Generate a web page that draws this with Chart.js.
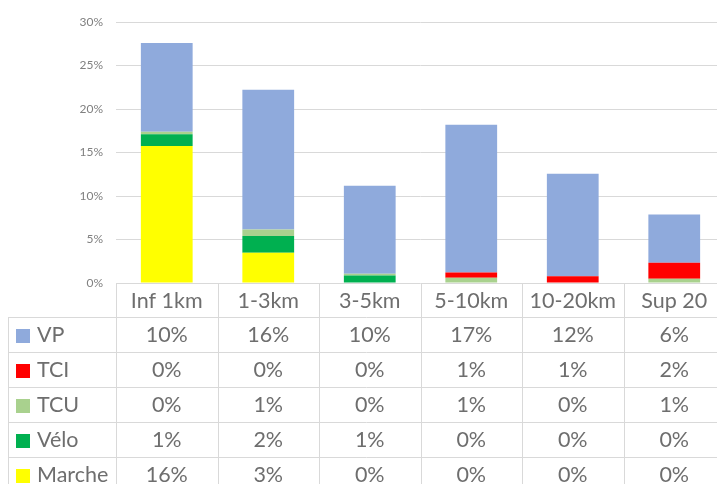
<!DOCTYPE html>
<html>
<head>
<meta charset="utf-8">
<script src="https://cdn.jsdelivr.net/npm/chart.js@4"></script>
<style>
html,body{margin:0;padding:0;background:#fff;overflow:hidden;}
#wrap{position:relative;width:726px;height:484px;}
</style>
</head>
<body>
<div id="wrap"><canvas id="c"></canvas></div>
<script>
const categories = ["Inf 1km", "1-3km", "3-5km", "5-10km", "10-20km", "Sup 20"];
const vp     = [10.2, 16.06, 10.12, 17.0, 11.8, 5.54];
const tci    = [0, 0, 0, 0.6, 0.77, 1.83];
const tcu    = [0.3, 0.77, 0.2, 0.6, 0, 0.5];
const velo   = [1.35, 1.91, 0.87, 0, 0, 0];
const marche = [15.74, 3.48, 0, 0, 0, 0];
const yTicks = [0, 5, 10, 15, 20, 25, 30];

const colors = {VP:"#8faadc", TCI:"#ff0000", TCU:"#a9d18e", "Vélo":"#00b050", Marche:"#ffff00"};
// stacking order bottom -> top
const stackSeries = [
  {label:"Marche", data:marche},
  {label:"Vélo", data:velo},
  {label:"TCU", data:tcu},
  {label:"TCI", data:tci},
  {label:"VP", data:vp}
];
// table row order top -> bottom
const tableRows = ["VP","TCI","TCU","Vélo","Marche"];

const FONT = "Lato, 'Open Sans', sans-serif";
const TEXT = "#6e6e6e";
const LINE = "#d9d9d9";

const tablePlugin = {
  id: "dataTable",
  afterDraw(chart) {
    const ctx = chart.ctx;
    const x = chart.scales.x, y = chart.scales.y;
    const n = categories.length;
    const half = (x.getPixelForValue(1) - x.getPixelForValue(0)) / 2;
    const top = y.getPixelForValue(0);
    const left = x.getPixelForValue(0) - half;
    const right = x.getPixelForValue(n - 1) + half;
    const headerH = 34, rowH = 35;
    const tableLeft = 8;
    const rowsTop = top + headerH;
    const bottom = rowsTop + rowH * tableRows.length;
    ctx.save();
    ctx.strokeStyle = LINE;
    ctx.lineWidth = 1;
    for (let r = 0; r <= tableRows.length; r++) {
      const yy = Math.round(rowsTop + r * rowH) + 0.5;
      ctx.beginPath(); ctx.moveTo(tableLeft, yy); ctx.lineTo(right, yy); ctx.stroke();
    }
    const xl = Math.round(tableLeft) + 0.5;
    ctx.beginPath(); ctx.moveTo(xl, rowsTop); ctx.lineTo(xl, bottom); ctx.stroke();
    for (let i = 0; i <= n; i++) {
      const xx = Math.round(left + i * 2 * half) + 0.5;
      ctx.beginPath(); ctx.moveTo(xx, top); ctx.lineTo(xx, bottom); ctx.stroke();
    }
    ctx.fillStyle = TEXT;
    ctx.font = "21.5px " + FONT;
    ctx.textAlign = "center";
    ctx.textBaseline = "middle";
    categories.forEach((c, i) => {
      ctx.fillText(c, x.getPixelForValue(i), top + headerH / 2 + 1);
    });
    tableRows.forEach((name, r) => {
      const ds = stackSeries.find(s => s.label === name);
      const cy = rowsTop + r * rowH + rowH / 2 + 1;
      ctx.fillStyle = colors[name];
      ctx.fillRect(16, Math.round(cy - 7), 14, 14);
      ctx.fillStyle = TEXT;
      ctx.textAlign = "left";
      ctx.fillText(name, 37, cy);
      ctx.textAlign = "center";
      ds.data.forEach((v, i) => {
        ctx.fillText(Math.round(v) + "%", x.getPixelForValue(i), cy);
      });
    });
    ctx.restore();
  }
};

new Chart(document.getElementById("c"), {
  type: "bar",
  data: {
    labels: categories,
    datasets: stackSeries.map(s => ({
      label: s.label,
      data: s.data,
      backgroundColor: colors[s.label],
      borderWidth: 0,
      barPercentage: 0.51,
      categoryPercentage: 1
    }))
  },
  options: {
    responsive: true,
    maintainAspectRatio: false,
    animation: false,
    layout: {padding: {top: 22, bottom: 201, left: 0, right: 1}},
    plugins: {legend: {display: false}, tooltip: {enabled: false}},
    scales: {
      x: {stacked: true, display: false},
      y: {
        stacked: true,
        min: 0, max: 30,
        afterBuildTicks(scale) { scale.ticks = yTicks.map(v => ({value: v})); },
        afterFit(scale) { scale.width = 116; },
        ticks: {
          callback: v => v + "%",
          color: "#808080",
          font: {family: FONT, size: 12},
          padding: 13
        },
        grid: {color: LINE, drawTicks: false},
        border: {display: false}
      }
    }
  },
  plugins: [tablePlugin]
});
</script>
</body>
</html>
